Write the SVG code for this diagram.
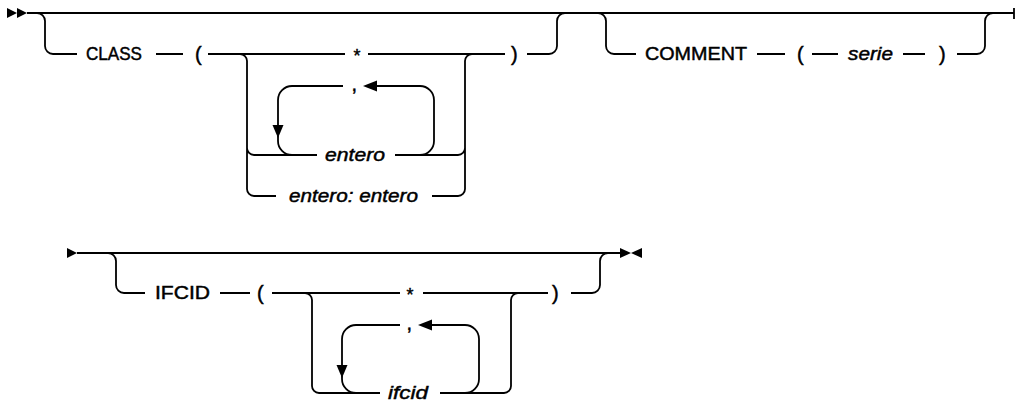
<svg xmlns="http://www.w3.org/2000/svg" width="1016" height="402" viewBox="0 0 1016 402">
<style>
.t{fill:none;stroke:#000;stroke-width:1.8;stroke-linecap:butt}
.a{fill:#000;stroke:none}
text{font-family:"Liberation Sans",Arial,sans-serif;font-size:18px;fill:#000;stroke:#000;stroke-width:0.45}
.v{font-style:italic}
.p{font-size:20px}
</style>
<rect width="1016" height="402" fill="#fff"/>
<g id="connectors">
<path class="t" d="M27,13 H1014 M1014,8 V19"/>
<path class="t" d="M37,13 a8,8 0 0 1 8,8 V46 a8,8 0 0 0 8,8 H77 M156,54 H183 M208,54 H345 M368,54 H505 M527,54 H549 a8,8 0 0 0 8,-8 V21 a8,8 0 0 1 8,-8"/>
<path class="t" d="M240,54 a7,7 0 0 1 7,7 V189 a7,7 0 0 0 7,7 H276 M247,148 a7,7 0 0 0 7,7 H317 M395,155 H458 a7,7 0 0 0 7,-7 M432,196 H458 a7,7 0 0 0 7,-7 V61 a7,7 0 0 1 7,-7"/>
<path class="t" d="M420,155 a14,14 0 0 0 14,-14 V100 a14,14 0 0 0 -14,-14 H376 M343,86 H292 a14,14 0 0 0 -14,14 V126 M278,136 V141 a14,14 0 0 0 14,14"/>
<path class="t" d="M598,13 a8,8 0 0 1 8,8 V46 a8,8 0 0 0 8,8 H636 M757,54 H785 M812,54 H838 M903,54 H925 M957,54 H977 a8,8 0 0 0 8,-8 V21 a8,8 0 0 1 8,-8"/>
<path class="t" d="M77,253 H620"/>
<path class="t" d="M108,253 a8,8 0 0 1 8,8 V285 a8,8 0 0 0 8,8 H145 M220,293 H250 M272,293 H400 M423,293 H548 M571,293 H592 a8,8 0 0 0 8,-8 V261 a8,8 0 0 1 8,-8"/>
<path class="t" d="M305,293 a7,7 0 0 1 7,7 V386 a7,7 0 0 0 7,7 H380 M440,393 H504 a7,7 0 0 0 7,-7 V300 a7,7 0 0 1 7,-7"/>
<path class="t" d="M465,393 a14,14 0 0 0 14,-14 V339 a14,14 0 0 0 -14,-14 H431 M400,325 H356 a14,14 0 0 0 -14,14 V366 M342,376 V379 a14,14 0 0 0 14,14"/>
<polygon class="a" points="363,86 377,80.5 377,91.5"/>
<polygon class="a" points="272.5,125 283.5,125 278,138"/>
<polygon class="a" points="418,325 432,319.5 432,330.5"/>
<polygon class="a" points="336.5,365 347.5,365 342,378"/>
</g>
<g id="start1"><polygon class="a" points="7,8 17,13 7,18"/><polygon class="a" points="17,8 27,13 17,18"/></g>
<g id="class"><text x="86" y="60" textLength="56" lengthAdjust="spacingAndGlyphs">CLASS</text></g>
<g id="lparen1"><text class="p" x="195" y="61">(</text></g>
<g id="star1"><text x="357" y="62" text-anchor="middle">*</text></g>
<g id="rparen1"><text class="p" x="511" y="61">)</text></g>
<g id="comma1"><text class="p" x="351.5" y="91">,</text></g>
<g id="entero"><text class="v" x="325" y="161" textLength="60" lengthAdjust="spacingAndGlyphs">entero</text></g>
<g id="range"><text class="v" x="289" y="202" textLength="129" lengthAdjust="spacingAndGlyphs">entero: entero</text></g>
<g id="comment"><text x="645" y="60" textLength="102" lengthAdjust="spacingAndGlyphs">COMMENT</text></g>
<g id="lparen2"><text class="p" x="797" y="61">(</text></g>
<g id="serie"><text class="v" x="848" y="60" textLength="45" lengthAdjust="spacingAndGlyphs">serie</text></g>
<g id="rparen2"><text class="p" x="939" y="61">)</text></g>
<g id="start2"><polygon class="a" points="67,248 77,253 67,258"/></g>
<g id="ifcid-kw"><text x="155" y="299" textLength="55" lengthAdjust="spacingAndGlyphs">IFCID</text></g>
<g id="lparen3"><text class="p" x="257" y="300">(</text></g>
<g id="star2"><text x="410" y="301" text-anchor="middle">*</text></g>
<g id="rparen3"><text class="p" x="552" y="300">)</text></g>
<g id="comma2"><text class="p" x="406.5" y="330">,</text></g>
<g id="ifcid"><text class="v" x="388" y="399" textLength="40" lengthAdjust="spacingAndGlyphs">ifcid</text></g>
<g id="end"><polygon class="a" points="620,248 631,253 620,258"/><polygon class="a" points="642,248 631,253 642,258"/></g>
</svg>
